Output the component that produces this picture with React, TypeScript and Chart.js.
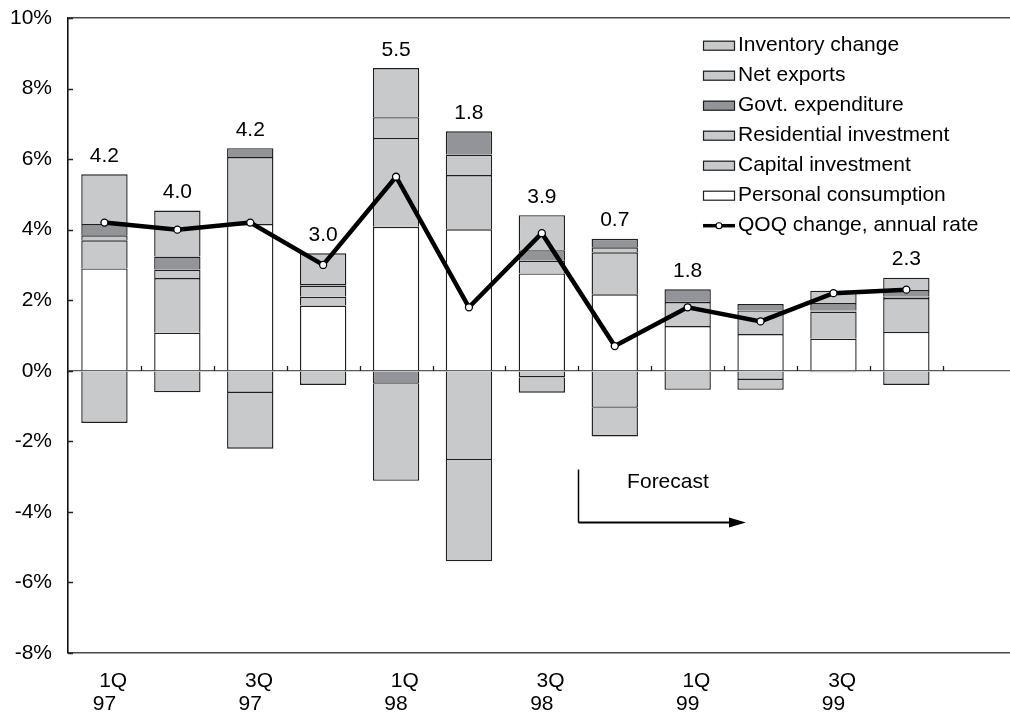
import { useEffect, useRef } from "react";
import { Chart, registerables } from "chart.js";

Chart.register(...registerables);

// Quarterly contributions to real GDP growth (percentage points, annual rate)
const quarters = ["1Q97", "2Q97", "3Q97", "4Q97", "1Q98", "2Q98", "3Q98", "4Q98", "1Q99", "2Q99", "3Q99", "4Q99"];

const personalConsumption = [2.9, 1.08, 4.16, 1.85, 4.08, 4.01, 2.76, 2.17, 1.27, 1.04, 0.91, 1.1];
const capitalInvestment = [0.8, 1.55, 1.9, 0.25, 2.52, 1.54, 0.36, 1.19, 0.68, 0.67, 0.77, 0.96];
const residentialInvestment = [0.14, 0.24, null, 0.31, 0.59, 0.58, -0.19, 0.14, 0.03, null, 0.03, 0.04];
const govtExpenditure = [0.32, 0.37, 0.25, 0.05, -0.37, 0.66, 0.3, 0.24, 0.33, 0.18, 0.21, 0.19];
const netExports = [-1.48, -0.61, -0.63, -0.4, -2.75, -2.53, -0.43, -1.05, -0.54, -0.26, -0.04, -0.4];
const inventoryChange = [1.41, 1.3, -1.58, 0.87, 1.39, -2.87, 0.99, -0.81, null, -0.28, 0.35, 0.35];

// Quarter-on-quarter GDP change, annual rate
const qoqChange = [4.2, 4.0, 4.2, 3.0, 5.5, 1.8, 3.9, 0.7, 1.8, 1.4, 2.2, 2.3];
// Quarters whose growth rate is printed above the bar
const labelledQuarters = ["1Q97", "2Q97", "3Q97", "4Q97", "1Q98", "2Q98", "3Q98", "4Q98", "1Q99", "4Q99"];

// Category-axis labels (every other quarter); the axis runs one slot past 4Q99
const tickLabels: (string[] | string)[] = [
  ["1Q", "97"], "", ["3Q", "97"], "", ["1Q", "98"], "", ["3Q", "98"], "",
  ["1Q", "99"], "", ["3Q", "99"], "", "",
];
const yTickValues = [-8, -6, -4, -2, 0, 2, 4, 6, 8, 10];

const FONT = "'Liberation Sans', Arial, sans-serif";
const WHITE = "#ffffff";
const LIGHT = "#c8c9cb";
const DARK = "#939497";
const EDGE = "#1e1e1e";

const barSeries = [
  { label: "Personal consumption", data: personalConsumption, color: WHITE },
  { label: "Capital investment", data: capitalInvestment, color: LIGHT },
  { label: "Residential investment", data: residentialInvestment, color: LIGHT },
  { label: "Govt. expenditure", data: govtExpenditure, color: DARK },
  { label: "Net exports", data: netExports, color: LIGHT },
  { label: "Inventory change", data: inventoryChange, color: LIGHT },
];

// Inward tick marks on the value axis and upward marks on the zero line
const axisMarks = {
  id: "axisMarks",
  afterDatasetsDraw(chart: any) {
    const { ctx, chartArea, scales } = chart;
    const x = scales.x;
    const y = scales.y;
    ctx.save();
    ctx.strokeStyle = "#222";
    ctx.lineWidth = 1.3;
    ctx.beginPath();
    yTickValues.forEach((v) => {
      const py = Math.round(y.getPixelForValue(v)) + 0.5;
      ctx.moveTo(chartArea.left, py);
      ctx.lineTo(chartArea.left + 5, py);
    });
    const y0 = Math.round(y.getPixelForValue(0));
    for (let i = 0; i < tickLabels.length - 1; i++) {
      const px = Math.round((x.getPixelForValue(i) + x.getPixelForValue(i + 1)) / 2) + 0.5;
      ctx.moveTo(px, y0);
      ctx.lineTo(px, y0 - 5);
    }
    ctx.stroke();
    ctx.restore();
  },
};

// Growth-rate figures printed above the stacked bars
const rateLabels = {
  id: "rateLabels",
  afterDatasetsDraw(chart: any) {
    const { ctx, scales } = chart;
    ctx.save();
    ctx.font = `21px ${FONT}`;
    ctx.fillStyle = "#000";
    ctx.textAlign = "center";
    ctx.textBaseline = "alphabetic";
    quarters.forEach((q, i) => {
      if (!labelledQuarters.includes(q)) return;
      const top = barSeries.reduce((s, b) => s + Math.max(0, b.data[i] ?? 0), 0);
      const px = scales.x.getPixelForValue(i);
      const py = scales.y.getPixelForValue(top) - 12.5;
      ctx.fillText(qoqChange[i].toFixed(1), px, py);
    });
    ctx.restore();
  },
};

// Forecast marker: bracket starting at the 3Q98/4Q98 boundary
const forecastMarker = {
  id: "forecastMarker",
  afterDraw(chart: any) {
    const { ctx, scales } = chart;
    const x = scales.x;
    const y = scales.y;
    const x0 = Math.round(x.getPixelForValue(6.5)) + 0.5;
    const x1 = x.getPixelForValue(8.8);
    const yTop = y.getPixelForValue(-2.8);
    const yBase = y.getPixelForValue(-4.3);
    ctx.save();
    ctx.strokeStyle = "#000";
    ctx.fillStyle = "#000";
    ctx.lineWidth = 1.5;
    ctx.beginPath();
    ctx.moveTo(x0, yTop);
    ctx.lineTo(x0, yBase);
    ctx.stroke();
    ctx.lineWidth = 2;
    ctx.beginPath();
    ctx.moveTo(x0, yBase);
    ctx.lineTo(x1 - 14, yBase);
    ctx.stroke();
    ctx.beginPath();
    ctx.moveTo(x1, yBase);
    ctx.lineTo(x1 - 17, yBase - 5);
    ctx.lineTo(x1 - 17, yBase + 5);
    ctx.closePath();
    ctx.fill();
    ctx.font = `21px ${FONT}`;
    ctx.textAlign = "center";
    ctx.textBaseline = "middle";
    ctx.fillText("Forecast", x.getPixelForValue(7.73), y.getPixelForValue(-3.17));
    ctx.restore();
  },
};

// Legend listed top-down in reverse stacking order, followed by the growth line
const legendBlock = {
  id: "legendBlock",
  afterDraw(chart: any, _args: any, opts: any) {
    const { ctx } = chart;
    const sets = chart.data.datasets;
    const bars = sets.filter((d: any) => d.type === "bar").reverse();
    const lines = sets.filter((d: any) => d.type === "line");
    ctx.save();
    ctx.font = `21px ${FONT}`;
    ctx.textAlign = "left";
    ctx.textBaseline = "alphabetic";
    const left = opts.left;
    [...bars, ...lines].forEach((d: any, i: number) => {
      const base = opts.top + i * opts.rowGap;
      if (d.type === "bar") {
        ctx.fillStyle = d.backgroundColor;
        ctx.fillRect(left, base - 10, 32, 10);
        ctx.strokeStyle = EDGE;
        ctx.lineWidth = 1.2;
        ctx.strokeRect(left + 0.5, base - 9.5, 31, 9);
      } else {
        const cy = base - 5;
        ctx.strokeStyle = "#000";
        ctx.lineWidth = 3.5;
        ctx.beginPath();
        ctx.moveTo(left, cy);
        ctx.lineTo(left + 32, cy);
        ctx.stroke();
        ctx.fillStyle = "#fff";
        ctx.lineWidth = 1.1;
        ctx.beginPath();
        ctx.arc(left + 16, cy, 3, 0, Math.PI * 2);
        ctx.fill();
        ctx.stroke();
      }
      ctx.fillStyle = "#000";
      ctx.fillText(d.label, left + 35, base);
    });
    ctx.restore();
  },
};

export default function App() {
  const canvasRef = useRef<HTMLCanvasElement | null>(null);

  useEffect(() => {
    if (!canvasRef.current) return;
    const font = { family: FONT, size: 21 };
    const chart = new Chart(canvasRef.current, {
      type: "bar",
      data: {
        labels: tickLabels.map((_, i) => quarters[i] ?? ""),
        datasets: [
          ...barSeries.map((s) => ({
            type: "bar" as const,
            label: s.label,
            data: s.data,
            backgroundColor: s.color,
            borderColor: EDGE,
            borderWidth: 1.4,
            barPercentage: 0.636,
            categoryPercentage: 1,
            stack: "gdp",
            order: 2,
          })),
          {
            type: "line" as const,
            label: "QOQ change, annual rate",
            data: qoqChange,
            borderColor: "#000",
            borderWidth: 4.5,
            pointRadius: 3.5,
            pointBackgroundColor: "#fff",
            pointBorderColor: "#000",
            pointBorderWidth: 1.3,
            tension: 0,
            stack: "qoq",
            order: 1,
          },
        ],
      } as any,
      options: {
        animation: false,
        responsive: false,
        devicePixelRatio: 1,
        layout: { padding: { top: 18, right: 0, bottom: 0, left: 0 } },
        plugins: {
          legend: { display: false },
          tooltip: { enabled: false },
          legendBlock: { left: 703, top: 50.7, rowGap: 30 },
        } as any,
        scales: {
          x: {
            stacked: true,
            offset: true,
            grid: { display: false, drawTicks: false },
            border: { display: true, color: "#4a4a4a", width: 1.6 },
            ticks: {
              autoSkip: false,
              maxRotation: 0,
              minRotation: 0,
              padding: 17,
              color: "#000",
              font: { ...font, lineHeight: 1.1 },
              callback: (_v: any, i: number) => {
                const t = tickLabels[i];
                return Array.isArray(t) ? ["   " + t[0], t[1]] : "";
              },
            },
            afterFit: (s: any) => {
              s.height = 63;
              s.paddingLeft = 0;
              s.paddingRight = 0;
            },
          },
          y: {
            stacked: true,
            min: -8,
            max: 10,
            grid: {
              drawTicks: false,
              color: (c: any) =>
                c.tick.value === 0 ? "#5a5a5a" : c.tick.value === 10 ? "#4a4a4a" : "rgba(0,0,0,0)",
              lineWidth: (c: any) => (c.tick.value === 10 ? 1.6 : 1.3),
            },
            border: { display: true, color: "#111", width: 1.6 },
            ticks: {
              stepSize: 2,
              padding: 16,
              color: "#000",
              font,
              callback: (v: any) => `${v}%`,
            },
            afterFit: (s: any) => {
              s.width = 68;
              s.paddingTop = 0;
              s.paddingBottom = 0;
            },
          },
        },
      } as any,
      plugins: [axisMarks, rateLabels, forecastMarker, legendBlock],
    });
    return () => chart.destroy();
  }, []);

  return (
    <div
      style={{
        position: "absolute",
        left: 0,
        top: 0,
        width: 1010,
        height: 716,
        overflow: "hidden",
        background: "#fff",
      }}
    >
      <canvas ref={canvasRef} width={1021} height={716} style={{ display: "block" }} />
    </div>
  );
}
